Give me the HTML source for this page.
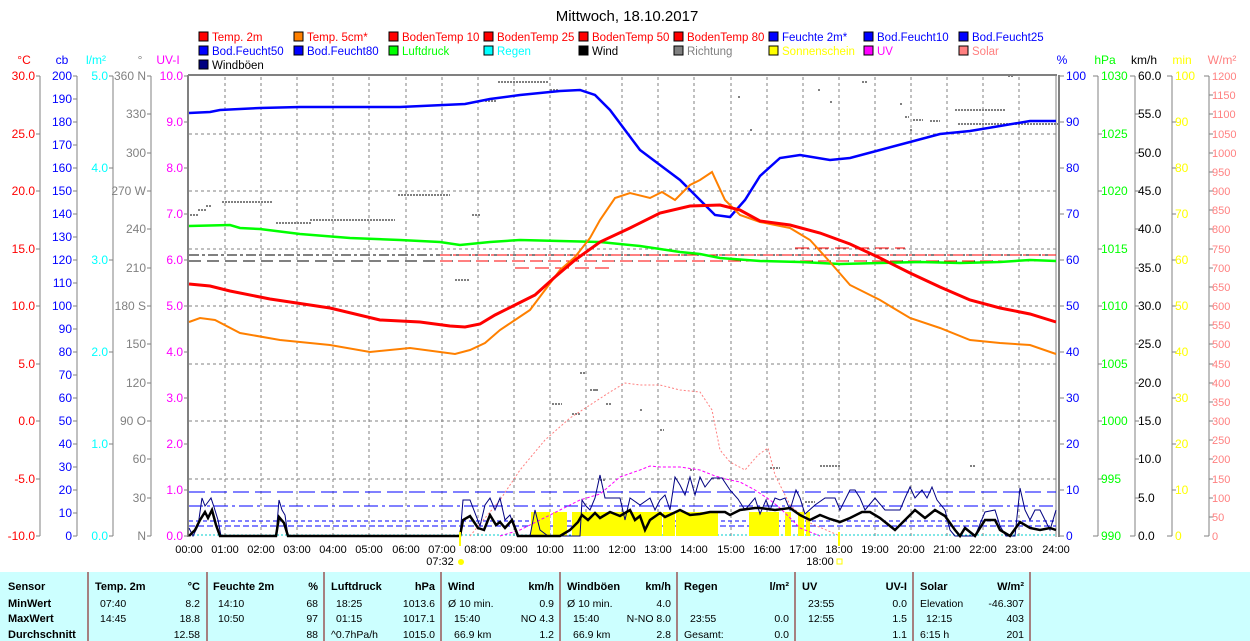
<!DOCTYPE html>
<html><head><meta charset="utf-8"><style>
body{margin:0;background:#fff;width:1250px;height:641px;overflow:hidden}
svg{display:block;font-family:"Liberation Sans",sans-serif}
</style></head><body>
<svg width="1250" height="641" viewBox="0 0 1250 641" xmlns="http://www.w3.org/2000/svg">
<text x="627" y="21" font-size="15" text-anchor="middle">Mittwoch, 18.10.2017</text>
<!-- legend -->
<g font-size="11.5">
<g stroke="#000" stroke-width="1">
<rect x="199" y="32" width="9" height="9" fill="#f00"/><rect x="294" y="32" width="9" height="9" fill="#ff8000"/><rect x="389" y="32" width="9" height="9" fill="#f00"/><rect x="484" y="32" width="9" height="9" fill="#f00"/><rect x="579" y="32" width="9" height="9" fill="#f00"/><rect x="674" y="32" width="9" height="9" fill="#f00"/><rect x="769" y="32" width="9" height="9" fill="#00f"/><rect x="864" y="32" width="9" height="9" fill="#00f"/><rect x="959" y="32" width="9" height="9" fill="#00f"/>
<rect x="199" y="46" width="9" height="9" fill="#00f"/><rect x="294" y="46" width="9" height="9" fill="#00f"/><rect x="389" y="46" width="9" height="9" fill="#0f0"/><rect x="484" y="46" width="9" height="9" fill="#0ff"/><rect x="579" y="46" width="9" height="9" fill="#000"/><rect x="674" y="46" width="9" height="9" fill="#808080"/><rect x="769" y="46" width="9" height="9" fill="#ff0"/><rect x="864" y="46" width="9" height="9" fill="#f0f"/><rect x="959" y="46" width="9" height="9" fill="#ff8080"/>
<rect x="199" y="60" width="9" height="9" fill="#000080"/></g>
<text x="212" y="41" fill="#f00">Temp. 2m</text><text x="307" y="41" fill="#f00">Temp. 5cm*</text><text x="402" y="41" fill="#f00">BodenTemp 10</text><text x="497" y="41" fill="#f00">BodenTemp 25</text><text x="592" y="41" fill="#f00">BodenTemp 50</text><text x="687" y="41" fill="#f00">BodenTemp 80</text><text x="782" y="41" fill="#00f">Feuchte 2m*</text><text x="877" y="41" fill="#00f">Bod.Feucht10</text><text x="972" y="41" fill="#00f">Bod.Feucht25</text>
<text x="212" y="55" fill="#00f">Bod.Feucht50</text><text x="307" y="55" fill="#00f">Bod.Feucht80</text><text x="402" y="55" fill="#0f0">Luftdruck</text><text x="497" y="55" fill="#0ff">Regen</text><text x="592" y="55" fill="#000">Wind</text><text x="687" y="55" fill="#808080">Richtung</text><text x="782" y="55" fill="#ff0">Sonnenschein</text><text x="877" y="55" fill="#f0f">UV</text><text x="972" y="55" fill="#ff8080">Solar</text>
<text x="212" y="69" fill="#000">Windböen</text>
</g>
<!-- grid -->
<g stroke="#808080" stroke-dasharray="3,3" stroke-width="1">
<line x1="189" y1="134" x2="1056" y2="134"/><line x1="189" y1="191" x2="1056" y2="191"/><line x1="189" y1="249" x2="1056" y2="249"/><line x1="189" y1="306" x2="1056" y2="306"/><line x1="189" y1="364" x2="1056" y2="364"/><line x1="189" y1="421" x2="1056" y2="421"/><line x1="189" y1="479" x2="1056" y2="479"/>
<line x1="225" y1="77" x2="225" y2="536"/><line x1="261" y1="77" x2="261" y2="536"/><line x1="297" y1="77" x2="297" y2="536"/><line x1="333" y1="77" x2="333" y2="536"/><line x1="369" y1="77" x2="369" y2="536"/><line x1="406" y1="77" x2="406" y2="536"/><line x1="442" y1="77" x2="442" y2="536"/><line x1="478" y1="77" x2="478" y2="536"/><line x1="514" y1="77" x2="514" y2="536"/><line x1="550" y1="77" x2="550" y2="536"/><line x1="586" y1="77" x2="586" y2="536"/><line x1="622" y1="77" x2="622" y2="536"/><line x1="658" y1="77" x2="658" y2="536"/><line x1="694" y1="77" x2="694" y2="536"/><line x1="731" y1="77" x2="731" y2="536"/><line x1="767" y1="77" x2="767" y2="536"/><line x1="803" y1="77" x2="803" y2="536"/><line x1="839" y1="77" x2="839" y2="536"/><line x1="875" y1="77" x2="875" y2="536"/><line x1="911" y1="77" x2="911" y2="536"/><line x1="947" y1="77" x2="947" y2="536"/><line x1="983" y1="77" x2="983" y2="536"/><line x1="1019" y1="77" x2="1019" y2="536"/>
</g>
<!-- frame -->
<g stroke="#808080" fill="none"><line x1="188" y1="75" x2="1057" y2="75" stroke-width="2"/><line x1="188" y1="75" x2="188" y2="537" stroke-width="2"/><line x1="1056" y1="75" x2="1056" y2="537" stroke-width="1"/><line x1="1059" y1="75" x2="1059" y2="537" stroke-width="2"/></g>
<!-- horizontal reference dashes -->
<g fill="none" stroke-width="1">
<line x1="189" y1="255" x2="1056" y2="255" stroke="#000" stroke-dasharray="10,3,3,3"/>
<line x1="189" y1="261" x2="1056" y2="261" stroke="#000" stroke-dasharray="12,6"/>
<line x1="440" y1="255" x2="1056" y2="255" stroke="#f00" stroke-dasharray="10,3,3,3"/>
<line x1="440" y1="261" x2="1056" y2="261" stroke="#f00" stroke-dasharray="12,6"/>
<line x1="515" y1="268" x2="612" y2="268" stroke="#f00" stroke-dasharray="14,6"/>
<line x1="795" y1="248" x2="905" y2="248" stroke="#f00" stroke-dasharray="14,6"/>
<line x1="189" y1="492" x2="1056" y2="492" stroke="#00f" stroke-dasharray="16,6"/>
<line x1="189" y1="506" x2="1056" y2="506" stroke="#00f" stroke-dasharray="14,4,3,4"/>
<line x1="189" y1="521" x2="1056" y2="521" stroke="#00f" stroke-dasharray="4,3"/>
<line x1="189" y1="526" x2="1056" y2="526" stroke="#00f" stroke-dasharray="6,3"/>
<line x1="189" y1="535" x2="1056" y2="535" stroke="#0cc" stroke-dasharray="2,2"/>
</g>
<!-- richtung dots -->
<g stroke="#808080" stroke-width="2" stroke-dasharray="2,1" fill="none">
<path d="M190 215h8M198 210h8M206 206h6M222 202h50M276 223h36M310 220h85M398 195h52M455 280h14M472 215h8M485 101h12M498 82h50M550 90h8M862 82h6M905 117h4M913 120h10M930 121h10M955 110h50M958 124h100M1008 76h6M580 373h6M590 390h8M552 404h10M572 414h8M606 404h6M970 466h6M820 466h20M805 502h10M770 468h10M600 480h6M690 470h4M660 430h4M738 97h3M818 90h3M830 102h3M595 390h3M640 410h3M750 130h3M900 104h3M910 130h3"/>
</g>
<!-- sunshine -->
<g fill="#ff0">
<rect x="531" y="512" width="19" height="24"/><rect x="553" y="512" width="14" height="24"/><rect x="572" y="512" width="90" height="24"/><rect x="663" y="512" width="12" height="24"/><rect x="676" y="512" width="42" height="24"/><rect x="749" y="512" width="30" height="24"/><rect x="785" y="512" width="6" height="24"/><rect x="798" y="512" width="6" height="24"/><rect x="806" y="512" width="4" height="24"/>
</g>
<!-- solar -->
<polyline fill="none" stroke="#ff8080" stroke-dasharray="2,2" stroke-width="1" points="470,536 500,500 520,470 545,440 570,418 590,405 610,392 625,383 640,385 660,385 680,390 700,392 712,410 720,450 730,462 745,470 758,455 768,448 775,475 790,505 810,523 840,536"/>
<polyline fill="none" stroke="#f0f" stroke-dasharray="3,2" stroke-width="1" points="500,536 520,530 540,520 560,510 580,500 600,494 620,477 640,470 650,466 660,467 670,467 680,467 700,470 715,476 730,480 740,482 755,490 770,500 780,508 800,528 820,536"/>
<!-- windböen -->
<polyline fill="none" stroke="#000080" stroke-width="1" points="189,528 193,536 198,526 202,498 205,506 208,502 211,498 214,507 218,520 221,536 250,536 276,536 279,500 282,510 285,515 288,536 460,536 463,500 470,500 480,526 485,505 490,498 495,510 500,498 505,520 510,515 514,526 517,536 530,536 535,510 540,530 548,536 580,536 582,500 586,506 590,510 595,498 600,475 605,498 620,498 625,520 630,498 640,505 650,498 655,510 660,500 665,495 670,510 675,477 680,485 685,495 690,477 695,495 700,477 705,487 712,478 722,478 730,490 738,499 745,510 755,498 760,514 766,500 770,510 775,498 780,500 785,498 790,510 796,490 800,498 805,514 815,505 825,498 835,498 840,510 850,490 855,490 860,498 865,510 875,498 885,510 900,510 905,498 910,487 915,498 922,490 927,498 932,487 937,500 945,510 950,530 955,536 975,536 985,512 995,510 1000,526 1006,536 1015,536 1020,488 1025,510 1030,520 1035,510 1040,510 1045,520 1050,530 1056,510"/>
<!-- wind -->
<polyline fill="none" stroke="#000" stroke-width="2.5" points="189,536 195,530 200,520 205,512 208,518 212,510 216,525 220,536 276,536 279,517 284,523 288,536 460,536 463,520 470,516 478,528 484,530 490,515 496,525 500,522 505,528 512,520 518,536 560,536 570,530 578,522 582,515 588,520 595,513 600,518 610,512 620,516 630,510 635,520 640,516 645,530 650,520 660,513 665,517 680,510 690,515 700,514 710,512 725,512 730,515 740,510 755,508 760,508 775,510 790,508 800,515 810,520 820,515 830,519 840,522 850,518 862,512 870,512 880,518 890,526 895,530 905,520 915,510 925,518 935,510 945,516 955,530 960,536 965,528 975,536 985,520 995,520 1000,530 1010,536 1020,522 1030,528 1040,530 1050,528 1056,530"/>
<!-- luftdruck -->
<polyline fill="none" stroke="#0f0" stroke-width="2.5" points="189,226 230,225 240,228 260,229 300,234 350,238 400,240 440,242 460,245 490,242 520,240 560,241 600,242 640,246 680,252 700,254 720,258 760,261 800,262 840,264 880,263 920,262 960,263 1000,262 1030,260 1056,261"/>
<!-- feuchte -->
<polyline fill="none" stroke="#00f" stroke-width="2.5" points="189,113 210,112 220,110 260,108 300,107 400,107 465,104 490,99 520,95 560,91 580,90 595,95 610,110 625,130 640,150 660,165 680,180 700,200 715,215 730,217 745,200 760,176 780,158 800,155 830,160 850,158 880,150 910,142 940,134 970,131 1000,126 1030,121 1056,121"/>
<!-- temp 5cm -->
<polyline fill="none" stroke="#ff8000" stroke-width="2" points="189,322 200,318 215,320 240,333 280,340 330,345 370,352 410,348 455,354 470,350 485,343 500,330 515,320 530,310 545,290 560,270 575,257 590,238 600,220 615,198 630,193 650,198 662,192 675,200 690,185 700,180 712,172 725,200 740,215 760,222 790,228 810,240 830,262 850,285 880,300 910,318 940,328 970,340 1000,343 1030,345 1056,354"/>
<!-- temp 2m -->
<polyline fill="none" stroke="#f00" stroke-width="3" points="189,284 210,286 230,291 270,299 330,308 380,320 420,322 450,326 465,327 480,324 495,315 515,305 535,295 555,277 575,260 600,242 630,228 660,213 690,206 720,205 740,210 760,221 790,225 820,233 850,244 880,258 910,273 940,287 970,300 1000,308 1030,314 1056,322"/>
<!-- sunrise/sunset -->
<line x1="460" y1="532" x2="460" y2="546" stroke="#ff0" stroke-width="2"/><line x1="839" y1="532" x2="839" y2="546" stroke="#ff0" stroke-width="2"/>
<text x="440" y="565" font-size="11" text-anchor="middle">07:32</text><circle cx="461" cy="562" r="3" fill="#ff0"/>
<text x="820" y="565" font-size="11" text-anchor="middle">18:00</text><rect x="837" y="559" width="5" height="5" fill="none" stroke="#ff0"/>
<!-- x labels -->
<g font-size="11" text-anchor="middle"><text x="189" y="553">00:00</text><text x="225" y="553">01:00</text><text x="261" y="553">02:00</text><text x="297" y="553">03:00</text><text x="333" y="553">04:00</text><text x="369" y="553">05:00</text><text x="406" y="553">06:00</text><text x="442" y="553">07:00</text><text x="478" y="553">08:00</text><text x="514" y="553">09:00</text><text x="550" y="553">10:00</text><text x="586" y="553">11:00</text><text x="622" y="553">12:00</text><text x="658" y="553">13:00</text><text x="694" y="553">14:00</text><text x="731" y="553">15:00</text><text x="767" y="553">16:00</text><text x="803" y="553">17:00</text><text x="839" y="553">18:00</text><text x="875" y="553">19:00</text><text x="911" y="553">20:00</text><text x="947" y="553">21:00</text><text x="983" y="553">22:00</text><text x="1019" y="553">23:00</text><text x="1056" y="553">24:00</text></g>
<!-- axes lines -->
<g stroke="#808080" fill="none"><line x1="40" y1="76" x2="40" y2="536"/><line x1="77" y1="76" x2="77" y2="536"/><line x1="113" y1="76" x2="113" y2="536"/><line x1="151" y1="76" x2="151" y2="536"/>
<line x1="1098" y1="76" x2="1098" y2="536"/><line x1="1135" y1="76" x2="1135" y2="536"/><line x1="1172" y1="76" x2="1172" y2="536"/><line x1="1209" y1="76" x2="1209" y2="536"/>
<path d="M36 76h4M36 134h4M36 191h4M36 249h4M36 306h4M36 364h4M36 421h4M36 479h4M36 536h4"/>
<path d="M73 76h4M73 99h4M73 122h4M73 145h4M73 168h4M73 191h4M73 214h4M73 237h4M73 260h4M73 283h4M73 306h4M73 329h4M73 352h4M73 375h4M73 398h4M73 421h4M73 444h4M73 467h4M73 490h4M73 513h4M73 536h4"/>
<path d="M109 76h4M109 168h4M109 260h4M109 352h4M109 444h4M109 536h4"/>
<path d="M147 76h4M147 114h4M147 153h4M147 191h4M147 229h4M147 268h4M147 306h4M147 344h4M147 383h4M147 421h4M147 459h4M147 498h4M147 536h4"/>
<path d="M184 76h4M184 122h4M184 168h4M184 214h4M184 260h4M184 306h4M184 352h4M184 398h4M184 444h4M184 490h4M184 536h4"/>
<path d="M1059 76h5M1059 122h5M1059 168h5M1059 214h5M1059 260h5M1059 306h5M1059 352h5M1059 398h5M1059 444h5M1059 490h5M1059 536h5"/>
<path d="M1093 76h5M1098 134h4M1098 191h4M1098 249h4M1098 306h4M1098 364h4M1098 421h4M1098 479h4M1093 536h5"/>
<path d="M1130 76h5M1135 114h4M1135 153h4M1135 191h4M1135 229h4M1135 268h4M1135 306h4M1135 344h4M1135 383h4M1135 421h4M1135 459h4M1135 498h4M1130 536h5"/>
<path d="M1167 76h5M1172 122h4M1172 168h4M1172 214h4M1172 260h4M1172 306h4M1172 352h4M1172 398h4M1172 444h4M1172 490h4M1167 536h5"/>
<path d="M1204 76h5M1209 95h4M1209 114h4M1209 134h4M1209 153h4M1209 172h4M1209 191h4M1209 210h4M1209 229h4M1209 249h4M1209 268h4M1209 287h4M1209 306h4M1209 325h4M1209 344h4M1209 364h4M1209 383h4M1209 402h4M1209 421h4M1209 440h4M1209 459h4M1209 479h4M1209 498h4M1209 517h4M1204 536h5"/>
</g>
<g font-size="12" text-anchor="middle"><text x="24" y="64" fill="#f00">°C</text><text x="62" y="64" fill="#00f">cb</text><text x="96" y="64" fill="#0ff">l/m²</text><text x="140" y="64" fill="#808080">°</text><text x="168" y="64" fill="#f0f">UV-I</text>
<text x="1062" y="64" fill="#00f">%</text><text x="1105" y="64" fill="#0f0">hPa</text><text x="1144" y="64" fill="#000">km/h</text><text x="1182" y="64" fill="#ff0">min</text><text x="1222" y="64" fill="#ff8080">W/m²</text></g>
<g font-size="12" text-anchor="end" fill="#f00"><text x="35" y="80">30.0</text><text x="35" y="138">25.0</text><text x="35" y="195">20.0</text><text x="35" y="253">15.0</text><text x="35" y="310">10.0</text><text x="35" y="368">5.0</text><text x="35" y="425">0.0</text><text x="35" y="483">-5.0</text><text x="35" y="540">-10.0</text></g>
<g font-size="12" text-anchor="end" fill="#00f"><text x="72" y="80">200</text><text x="72" y="103">190</text><text x="72" y="126">180</text><text x="72" y="149">170</text><text x="72" y="172">160</text><text x="72" y="195">150</text><text x="72" y="218">140</text><text x="72" y="241">130</text><text x="72" y="264">120</text><text x="72" y="287">110</text><text x="72" y="310">100</text><text x="72" y="333">90</text><text x="72" y="356">80</text><text x="72" y="379">70</text><text x="72" y="402">60</text><text x="72" y="425">50</text><text x="72" y="448">40</text><text x="72" y="471">30</text><text x="72" y="494">20</text><text x="72" y="517">10</text><text x="72" y="540">0</text></g>
<g font-size="12" text-anchor="end" fill="#0ff"><text x="108" y="80">5.0</text><text x="108" y="172">4.0</text><text x="108" y="264">3.0</text><text x="108" y="356">2.0</text><text x="108" y="448">1.0</text><text x="108" y="540">0.0</text></g>
<g font-size="12" text-anchor="end" fill="#808080"><text x="146" y="80">360 N</text><text x="146" y="118">330</text><text x="146" y="157">300</text><text x="146" y="195">270 W</text><text x="146" y="233">240</text><text x="146" y="272">210</text><text x="146" y="310">180 S</text><text x="146" y="348">150</text><text x="146" y="387">120</text><text x="146" y="425">90 O</text><text x="146" y="463">60</text><text x="146" y="502">30</text><text x="146" y="540">N</text></g>
<g font-size="12" text-anchor="end" fill="#f0f"><text x="183" y="80">10.0</text><text x="183" y="126">9.0</text><text x="183" y="172">8.0</text><text x="183" y="218">7.0</text><text x="183" y="264">6.0</text><text x="183" y="310">5.0</text><text x="183" y="356">4.0</text><text x="183" y="402">3.0</text><text x="183" y="448">2.0</text><text x="183" y="494">1.0</text><text x="183" y="540">0.0</text></g>
<!-- right axes -->
<g font-size="12" fill="#00f"><text x="1066" y="80">100</text><text x="1066" y="126">90</text><text x="1066" y="172">80</text><text x="1066" y="218">70</text><text x="1066" y="264">60</text><text x="1066" y="310">50</text><text x="1066" y="356">40</text><text x="1066" y="402">30</text><text x="1066" y="448">20</text><text x="1066" y="494">10</text><text x="1066" y="540">0</text></g>
<g font-size="12" fill="#0f0"><text x="1101" y="80">1030</text><text x="1101" y="138">1025</text><text x="1101" y="195">1020</text><text x="1101" y="253">1015</text><text x="1101" y="310">1010</text><text x="1101" y="368">1005</text><text x="1101" y="425">1000</text><text x="1101" y="483">995</text><text x="1101" y="540">990</text></g>
<g font-size="12" fill="#000"><text x="1138" y="80">60.0</text><text x="1138" y="118">55.0</text><text x="1138" y="157">50.0</text><text x="1138" y="195">45.0</text><text x="1138" y="233">40.0</text><text x="1138" y="272">35.0</text><text x="1138" y="310">30.0</text><text x="1138" y="348">25.0</text><text x="1138" y="387">20.0</text><text x="1138" y="425">15.0</text><text x="1138" y="463">10.0</text><text x="1138" y="502">5.0</text><text x="1138" y="540">0.0</text></g>
<g font-size="12" fill="#ff0"><text x="1175" y="80">100</text><text x="1175" y="126">90</text><text x="1175" y="172">80</text><text x="1175" y="218">70</text><text x="1175" y="264">60</text><text x="1175" y="310">50</text><text x="1175" y="356">40</text><text x="1175" y="402">30</text><text x="1175" y="448">20</text><text x="1175" y="494">10</text><text x="1175" y="540">0</text></g>
<g font-size="11" fill="#ff8080"><text x="1212" y="80">1200</text><text x="1212" y="99">1150</text><text x="1212" y="118">1100</text><text x="1212" y="138">1050</text><text x="1212" y="157">1000</text><text x="1212" y="176">950</text><text x="1212" y="195">900</text><text x="1212" y="214">850</text><text x="1212" y="233">800</text><text x="1212" y="253">750</text><text x="1212" y="272">700</text><text x="1212" y="291">650</text><text x="1212" y="310">600</text><text x="1212" y="329">550</text><text x="1212" y="348">500</text><text x="1212" y="368">450</text><text x="1212" y="387">400</text><text x="1212" y="406">350</text><text x="1212" y="425">300</text><text x="1212" y="444">250</text><text x="1212" y="463">200</text><text x="1212" y="483">150</text><text x="1212" y="502">100</text><text x="1212" y="521">50</text><text x="1212" y="540">0</text></g>
<!-- table -->
<rect x="0" y="572" width="1250" height="69" fill="#ccffff"/>
<g stroke="#800000"><line x1="88" y1="572" x2="88" y2="641"/><line x1="207" y1="572" x2="207" y2="641"/><line x1="324" y1="572" x2="324" y2="641"/><line x1="441" y1="572" x2="441" y2="641"/><line x1="560" y1="572" x2="560" y2="641"/><line x1="677" y1="572" x2="677" y2="641"/><line x1="795" y1="572" x2="795" y2="641"/><line x1="913" y1="572" x2="913" y2="641"/><line x1="1030" y1="572" x2="1030" y2="641"/></g>
<g font-size="11" font-weight="bold" fill="#000"><text x="8" y="590">Sensor</text><text x="8" y="607">MinWert</text><text x="8" y="622">MaxWert</text><text x="8" y="638">Durchschnitt</text>
<text x="95" y="590">Temp. 2m</text><text x="200" y="590" text-anchor="end">°C</text><text x="213" y="590">Feuchte 2m</text><text x="318" y="590" text-anchor="end">%</text><text x="331" y="590">Luftdruck</text><text x="435" y="590" text-anchor="end">hPa</text><text x="448" y="590">Wind</text><text x="554" y="590" text-anchor="end">km/h</text><text x="567" y="590">Windböen</text><text x="671" y="590" text-anchor="end">km/h</text><text x="684" y="590">Regen</text><text x="789" y="590" text-anchor="end">l/m²</text><text x="802" y="590">UV</text><text x="907" y="590" text-anchor="end">UV-I</text><text x="920" y="590">Solar</text><text x="1024" y="590" text-anchor="end">W/m²</text></g>
<g font-size="10.5" fill="#000">
<text x="100" y="607">07:40</text><text x="200" y="607" text-anchor="end">8.2</text><text x="218" y="607">14:10</text><text x="318" y="607" text-anchor="end">68</text><text x="336" y="607">18:25</text><text x="435" y="607" text-anchor="end">1013.6</text><text x="448" y="607">Ø 10 min.</text><text x="554" y="607" text-anchor="end">0.9</text><text x="567" y="607">Ø 10 min.</text><text x="671" y="607" text-anchor="end">4.0</text><text x="808" y="607">23:55</text><text x="907" y="607" text-anchor="end">0.0</text><text x="920" y="607">Elevation</text><text x="1024" y="607" text-anchor="end">-46.307</text>
<text x="100" y="622">14:45</text><text x="200" y="622" text-anchor="end">18.8</text><text x="218" y="622">10:50</text><text x="318" y="622" text-anchor="end">97</text><text x="336" y="622">01:15</text><text x="435" y="622" text-anchor="end">1017.1</text><text x="454" y="622">15:40</text><text x="554" y="622" text-anchor="end">NO 4.3</text><text x="573" y="622">15:40</text><text x="671" y="622" text-anchor="end">N-NO 8.0</text><text x="690" y="622">23:55</text><text x="789" y="622" text-anchor="end">0.0</text><text x="808" y="622">12:55</text><text x="907" y="622" text-anchor="end">1.5</text><text x="926" y="622">12:15</text><text x="1024" y="622" text-anchor="end">403</text>
<text x="200" y="638" text-anchor="end">12.58</text><text x="318" y="638" text-anchor="end">88</text><text x="331" y="638">^0.7hPa/h</text><text x="435" y="638" text-anchor="end">1015.0</text><text x="454" y="638">66.9 km</text><text x="554" y="638" text-anchor="end">1.2</text><text x="573" y="638">66.9 km</text><text x="671" y="638" text-anchor="end">2.8</text><text x="684" y="638">Gesamt:</text><text x="789" y="638" text-anchor="end">0.0</text><text x="907" y="638" text-anchor="end">1.1</text><text x="920" y="638">6:15 h</text><text x="1024" y="638" text-anchor="end">201</text>
</g>
</svg>
</body></html>
